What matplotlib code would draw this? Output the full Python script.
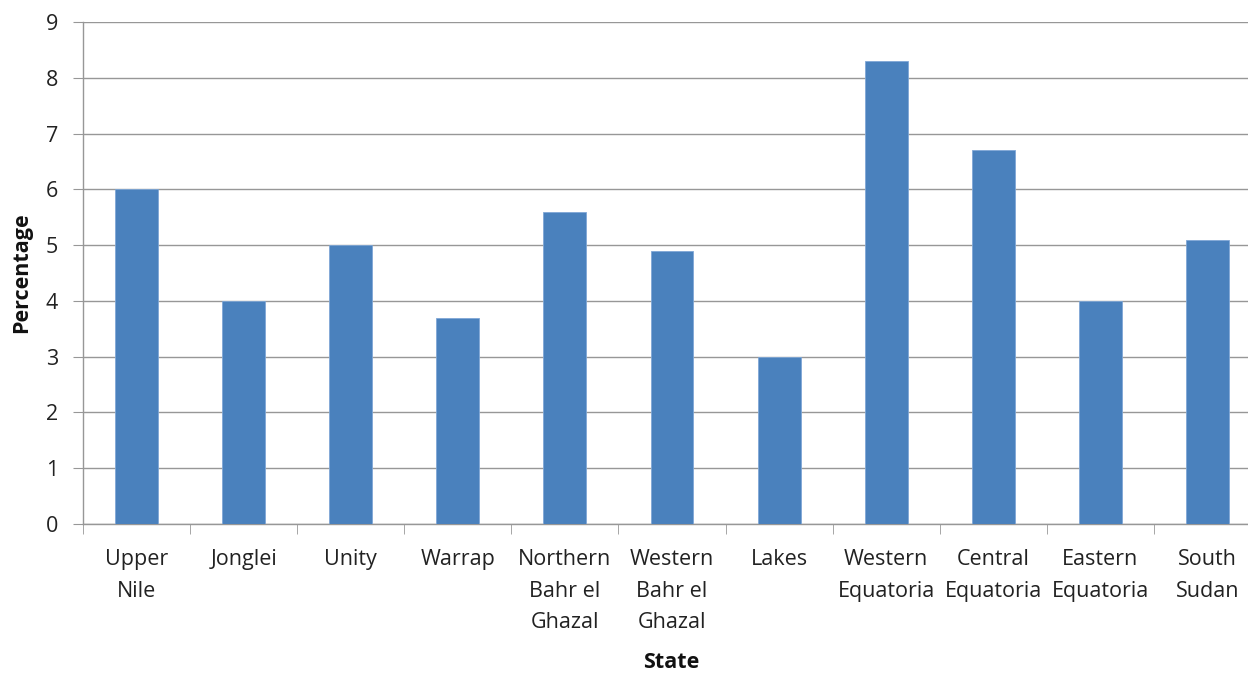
import matplotlib
matplotlib.use("Agg")
import matplotlib.pyplot as plt
import numpy as np

categories = ["Upper\nNile", "Jonglei", "Unity", "Warrap", "Northern\nBahr el\nGhazal",
              "Western\nBahr el\nGhazal", "Lakes", "Western\nEquatoria", "Central\nEquatoria",
              "Eastern\nEquatoria", "South\nSudan"]
values = [6.0, 4.0, 5.0, 3.7, 5.6, 4.9, 3.0, 8.3, 6.7, 4.0, 5.1]
yticks = list(range(0, 10))

plt.rcParams['font.family'] = ['Open Sans', 'DejaVu Sans']
FS = 15.5

fig = plt.figure(figsize=(12.48, 6.75), dpi=100)
# plot area extends slightly past the right edge, as in the reference
ax = fig.add_axes([83/1248, 1-524/675, 1178/1248, (524-22)/675])

x = np.arange(len(categories))
ax.bar(x, values, width=0.4, color='#4A81BD', edgecolor='#7FA7D6', linewidth=0.6, zorder=3)

ax.set_xlim(-0.5, len(categories)-0.5)
ax.set_ylim(0, 9)
ax.set_yticks(yticks)
ax.set_yticklabels([str(t) for t in yticks], fontsize=FS, color='#222222')
ax.yaxis.grid(True, color='#979797', linewidth=1.0, zorder=0)
ax.set_axisbelow(True)

ax.set_xticks(x)
ax.set_xticklabels(categories, fontsize=FS, color='#222222', linespacing=1.66, va='top')
ax.set_xticks(np.arange(-0.5, len(categories), 1.0), minor=True)
ax.tick_params(axis='x', which='major', length=0, pad=18)
ax.tick_params(axis='x', which='minor', length=7, color='#979797', direction='out')
ax.tick_params(axis='y', which='major', length=7, color='#979797', direction='out', pad=11)

for side in ['top', 'right']:
    ax.spines[side].set_visible(False)
for side in ['left', 'bottom']:
    ax.spines[side].set_color('#979797')
    ax.spines[side].set_linewidth(1.0)

fig.text(22/1248, 1-273/675, 'Percentage', fontsize=FS, fontweight='bold',
         rotation=90, ha='center', va='center', color='#111111')
fig.text(671/1248, 1-663/675, 'State', fontsize=FS, fontweight='bold',
         ha='center', va='center', color='#111111')

fig.savefig('out.png', dpi=100)
